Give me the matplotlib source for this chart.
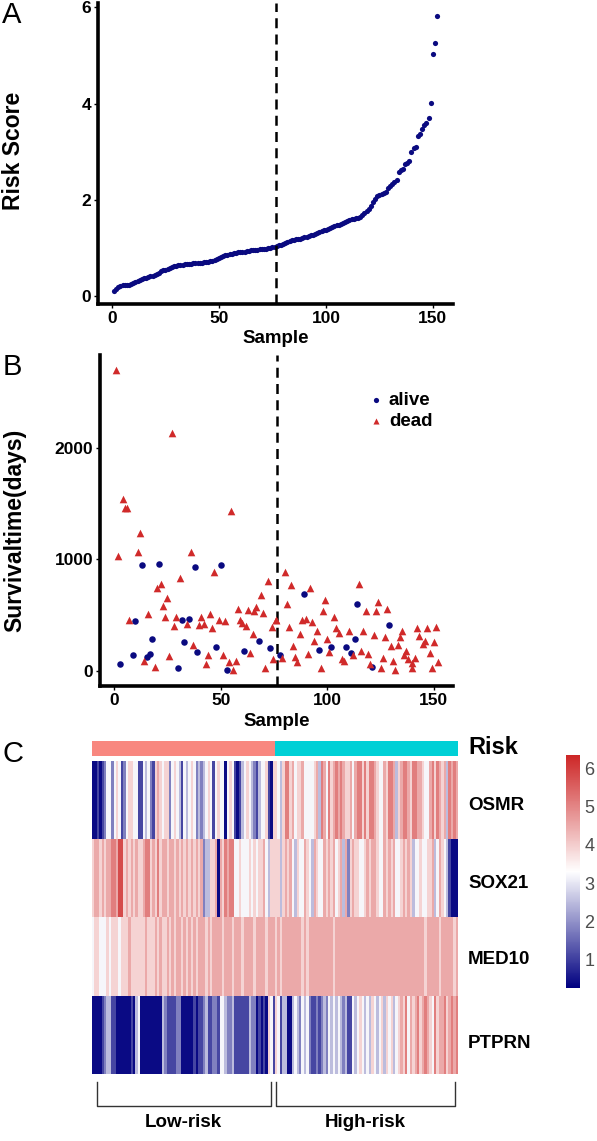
import numpy as np
import matplotlib
matplotlib.use("Agg")
import matplotlib.pyplot as plt
from matplotlib.colors import LinearSegmentedColormap, ListedColormap
from matplotlib.lines import Line2D
from matplotlib.transforms import blended_transform_factory

plt.rcParams['font.family'] = ['Liberation Sans', 'DejaVu Sans']

# ---- data -------------------------------------------------------------
# A: risk score ordered by sample
risk_score = [
    0.12, 0.15, 0.20, 0.22, 0.23, 0.23, 0.23, 0.24, 0.25, 0.27,
    0.29, 0.31, 0.34, 0.36, 0.37, 0.38, 0.40, 0.42, 0.43, 0.44,
    0.46, 0.49, 0.52, 0.54, 0.55, 0.57, 0.58, 0.60, 0.62, 0.63,
    0.64, 0.65, 0.66, 0.67, 0.67, 0.68, 0.68, 0.69, 0.69, 0.70,
    0.70, 0.70, 0.71, 0.71, 0.72, 0.73, 0.74, 0.76, 0.78, 0.80,
    0.82, 0.83, 0.85, 0.86, 0.87, 0.88, 0.89, 0.90, 0.91, 0.92,
    0.93, 0.93, 0.94, 0.95, 0.96, 0.96, 0.97, 0.97, 0.98, 0.98,
    0.99, 0.99, 1.00, 1.01, 1.02, 1.03, 1.04, 1.06, 1.07, 1.08,
    1.10, 1.12, 1.14, 1.16, 1.17, 1.18, 1.19, 1.20, 1.22, 1.23,
    1.24, 1.26, 1.27, 1.28, 1.30, 1.32, 1.33, 1.35, 1.37, 1.38,
    1.40, 1.42, 1.44, 1.46, 1.48, 1.49, 1.51, 1.53, 1.55, 1.56,
    1.58, 1.60, 1.61, 1.62, 1.63, 1.65, 1.68, 1.72, 1.78, 1.82,
    1.88, 1.95, 2.02, 2.08, 2.10, 2.13, 2.14, 2.16, 2.24, 2.30,
    2.33, 2.38, 2.42, 2.58, 2.62, 2.64, 2.74, 2.76, 2.80, 3.00,
    3.07, 3.10, 3.32, 3.38, 3.47, 3.55, 3.60, 3.71, 4.02, 5.04,
    5.25, 5.83,
]
cutoff = 76.5

# B: survival time (days) by sample
alive_sample = [13, 21, 38, 50, 10, 32, 35, 18, 33, 39, 48, 61, 68, 73, 9, 15.5,
                17, 3, 30, 53, 89, 114, 129, 113, 96, 102, 109, 111, 78, 121]
alive_days = [951, 957, 930, 951, 448, 457, 466, 284, 263, 173, 213, 182, 266, 209,
              143, 123, 152, 63, 27, 8, 693, 604, 410, 284, 191, 213, 213, 159, 143, 39]

dead_sample = [1, 4, 5, 6, 12, 27, 55,
               2, 11, 36, 47, 31, 22, 20, 25, 23, 72, 69, 7, 16, 24, 29, 28, 34,
               40, 41, 42, 45, 46, 49, 52, 58, 63, 66.6, 65.6, 70, 59, 60, 61.7,
               75.8, 74, 65, 37, 44, 51, 26, 14, 19, 43, 54, 57, 56, 63.8, 71, 74.7,
               80, 83, 81, 92, 115, 99, 98, 103, 124, 118, 123, 128, 76, 88, 90,
               93, 82, 95, 87, 104, 105.6, 110, 117, 122, 127, 135, 134, 142, 147,
               151, 143, 146, 145, 150, 94, 100, 84, 130, 133, 137, 101, 91, 116,
               119, 112, 85, 86, 79, 107, 108, 126, 131, 136, 138, 140, 141, 148,
               152, 97, 120, 125, 132, 139.8, 149]
dead_days = [2696, 1538, 1458, 1458, 1241, 2134, 1431,
             1034, 1070, 1070, 885, 837, 777, 742, 652, 586, 807, 682, 457, 511,
             487, 481, 404, 419, 413, 487, 419, 511, 389, 457, 451, 556, 547, 577,
             541, 517, 457, 428, 404, 457, 392, 329, 233, 143, 143, 134, 93, 33,
             60, 78, 90, 9, 159, 30, 105,
             891, 771, 601, 747, 777, 637, 541, 487, 622, 541, 538, 553, 457, 457,
             469, 437, 392, 361, 332, 383, 343, 361, 361, 323, 302, 361, 308, 389,
             386, 395, 314, 272, 239, 257, 272, 284, 224, 224, 233, 179, 173, 150,
             179, 150, 143, 123, 78, 114, 105, 90, 120, 93, 143, 108, 69, 114, 159,
             78, 30, 60, 30, 9, 30, 24]

# C: expression heatmap (columns ordered by risk score), one level code per sample
level_values = {'1': 0.4, '2': 1.1, '3': 1.8, '4': 2.5, '5': 3.2,
                '6': 3.9, '7': 4.5, '8': 5.1, '9': 5.8}
genes = ['OSMR', 'SOX21', 'MED10', 'PTPRN']
OSMR = ("1121235535 6523566552 2545326765 6635654254 5653434565 2565515652 1245654324 556216"
        "6546886756 6755556748 7586787876 6757886868 8765576887 4678876887 7655786876 748787")
SOX21 = ("6776767788 7996767676 6788676867 7677676767 6767673446 6717687885 5655565656 675466"
         "6646767546 5576547655 7676756747 3676655676 7765576767 5567676455 6556674576 542111")
MED10 = ("5665556566 6566676666 6676667676 6767677676 7676777676 7777677767 7767777677 776777"
         "6767777777 7676777777 7777677777 7777777777 7777777777 7777777777 7767777767 777767")
PTPRN = ("1111234422 1111112145 1111111114 3222233111 1121223422 3325543342 2222243312 121652"
         "6524411454 3545322323 4354545434 2254565454 6545646564 5676857678 6787658677 867878")
risk_groups = ['Low-risk', 'High-risk']
n_low = 76
n_high = 76

# ---- figure -----------------------------------------------------------
W, H = 597, 1141
fig = plt.figure(figsize=(W / 100, H / 100), dpi=100)


def box(x0, y0, x1, y1):
    # pixel box (top-left origin) -> figure fraction rect
    return [x0 / W, 1 - y1 / H, (x1 - x0) / W, (y1 - y0) / H]


def style_axis(ax):
    for s in ['top', 'right']:
        ax.spines[s].set_visible(False)
    for s in ['left', 'bottom']:
        ax.spines[s].set_linewidth(2.6)
        ax.spines[s].set_color('black')
    ax.tick_params(length=3, width=1, labelsize=12.5, pad=2)
    for lab in ax.get_xticklabels() + ax.get_yticklabels():
        lab.set_fontweight('bold')
    ax.set_xticks([0, 50, 100, 150])


navy = '#0A0A80'
red = '#D02A2A'

# A
axA = fig.add_axes(box(98, 3, 453, 304))
samples = np.arange(1, len(risk_score) + 1)
axA.scatter(samples, risk_score, s=14, color=navy, linewidths=0)
axA.axvline(cutoff, color='black', linestyle=(0, (4, 2.5)), linewidth=1.8)
axA.set_xlim(-6.5, 159.4)
axA.set_ylim(-0.16, 6.09)
axA.set_yticks([0, 2, 4, 6])
style_axis(axA)
axA.set_xlabel('Sample', fontsize=13.5, fontweight='bold')
axA.set_ylabel('Risk Score', fontsize=16.5, fontweight='bold')
axA.xaxis.set_label_coords(0.5, -0.087)
axA.yaxis.set_label_coords(-0.205, 0.51)

# B
axB = fig.add_axes(box(100, 355, 453, 686))
axB.scatter(alive_sample, alive_days, s=22, marker='o', color=navy, linewidths=0,
            label='alive', zorder=3)
axB.scatter(dead_sample, dead_days, s=30, marker='^', color=red, linewidths=0,
            label='dead', zorder=3)
axB.axvline(cutoff, color='black', linestyle=(0, (4, 2.5)), linewidth=1.8, zorder=2)
axB.set_xlim(-6.6, 159)
axB.set_ylim(-135, 2834)
axB.set_yticks([0, 1000, 2000])
style_axis(axB)
axB.set_xlabel('Sample', fontsize=13.5, fontweight='bold')
axB.set_ylabel('Survivaltime(days)', fontsize=16.5, fontweight='bold')
axB.xaxis.set_label_coords(0.5, -0.082)
axB.yaxis.set_label_coords(-0.21, 0.47)
axB.legend(loc='upper left', bbox_to_anchor=(0.765, 0.89), frameon=False,
           prop={'weight': 'bold', 'size': 13.5}, handlelength=0.6,
           handletextpad=0.4, labelspacing=0.25, borderaxespad=0, borderpad=0,
           markerscale=0.8)

# C: risk bar
axR = fig.add_axes(box(92.3, 741, 457.7, 756))
risk_row = np.array([[0] * n_low + [1] * n_high])
axR.imshow(risk_row, aspect='auto', cmap=ListedColormap(['#F8877F', '#00D0D6']),
           interpolation='nearest', extent=(0, n_low + n_high, 1, 0))
axR.set_axis_off()

# C: heatmap
rows = [OSMR, SOX21, MED10, PTPRN]
mat = np.array([[level_values[c] for c in r.replace(' ', '')] for r in rows])
cmap = LinearSegmentedColormap.from_list('bwr_gg', ['#000080', '#FFFFFF', '#CD2626'])
axH = fig.add_axes(box(92.3, 761, 457.7, 1074))
im = axH.imshow(mat, aspect='auto', cmap=cmap, vmin=0.27, vmax=6.34,
                interpolation='nearest', extent=(0, mat.shape[1], 4, 0))
axH.set_axis_off()

# labels at right of heatmap
fig.text(468 / W, 1 - 747 / H, 'Risk', fontsize=17, fontweight='bold', va='center', ha='left')
for g, yc in zip(genes, [805, 883, 960, 1043]):
    fig.text(468 / W, 1 - yc / H, g, fontsize=13.5, fontweight='bold', va='center', ha='left')

# brackets and group labels
tr = blended_transform_factory(axH.transData, axH.transAxes)
for (x0, x1), lab in zip([(1.8, 74.2), (76.4, 150.9)], risk_groups):
    axH.add_line(Line2D([x0, x0, x1, x1], [-0.026, -0.102, -0.102, -0.026],
                        transform=tr, color='#333333', linewidth=1, clip_on=False))
    axH.text((x0 + x1) / 2, -0.155, lab, transform=tr, ha='center', va='center',
             fontsize=13.5, fontweight='bold')

# colorbar
axC = fig.add_axes(box(566, 755, 580, 988))
cb = fig.colorbar(im, cax=axC, ticks=[1, 2, 3, 4, 5, 6])
cb.outline.set_visible(False)
axC.tick_params(length=0, labelsize=13, labelcolor='#4D4D4D', pad=3)

# panel letters
for lab, (x, y) in zip(['A', 'B', 'C'], [(12, 15), (12, 367), (12.5, 754)]):
    fig.text(x / W, 1 - y / H, lab, fontsize=21, ha='center', va='center')

fig.savefig('out.png', dpi=100)
